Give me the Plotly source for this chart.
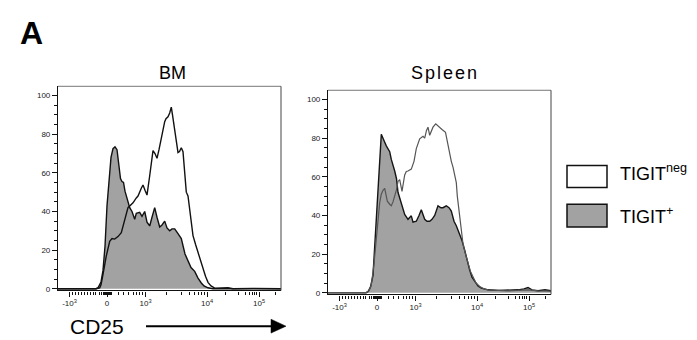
import plotly.graph_objects as go

# ---------------- data (x in display-channel units of the biexponential CD25 axis) -------------
bm_pos_x = [0, 38, 40, 43, 45, 47, 49, 51, 53, 55, 57, 59, 61, 62.5, 64, 65.5, 67, 69, 71.7, 74,
            76.7, 78.3, 81.7, 84, 86.7, 89, 91.7, 94, 96.7, 99, 101.7, 104, 106.7, 109, 111.7, 114,
            116.7, 120, 123.3, 127, 130, 133, 136.7, 140, 143.3, 146, 150, 155, 223]
bm_pos_y = [0, 0, 0.5, 3.5, 9.5, 22, 43, 58, 68, 72.5, 73.5, 72, 63.5, 57, 55.5, 55, 50.5, 47, 42, 40,
            36, 39, 39.5, 37.5, 40, 34.5, 32.5, 37, 42, 37, 32, 33, 35, 31.5, 30, 31,
            31, 28.5, 26, 18, 14, 11, 9, 5.5, 3, 1.5, 0.5, 0, 0]

bm_neg_x = [0, 38, 41.7, 43, 45, 48.3, 51.7, 54, 56.7, 60, 63.3, 66.7, 70, 72, 75, 78.3, 80, 83.3,
            85, 87, 89, 91.7, 93.5, 95, 97, 99, 101, 103.3, 105, 106.7, 108, 110, 111.7, 113.3,
            114.5, 116.7, 118.5, 120, 121.5, 123.3, 125, 126.5, 128.3, 130, 131.7, 133.3, 135,
            137.5, 140, 142.5, 145, 147.5, 150, 153, 156.7, 165, 170, 175, 188, 195, 223]
bm_neg_y = [0, 0, 0.5, 2, 7.5, 17, 24.5, 26, 25.7, 27, 29, 35, 42, 43, 44.5, 47, 48, 52,
            53.7, 51, 48.5, 58.5, 66, 71.5, 70, 67.5, 72, 77.5, 83, 86.5, 88, 89, 91, 94,
            90, 82.5, 75, 70.5, 71, 73, 71, 62, 50, 48, 41, 34, 27.5,
            23, 19, 14, 10, 6.5, 3.3, 1.5, 0.3, 0.2, 0.5, 0, 0.3, 0.2, 0]

sp_pos_x = [0, 38, 40, 42.5, 45, 47.3, 49, 50.5, 52, 53.3, 55, 58.3, 61.7, 63.3, 66.7, 68.5, 70,
            72.7, 73.3, 76.7, 80, 83.3, 85, 88.3, 91, 93.3, 96.7, 99, 101.7, 104, 106.7, 110, 113,
            115, 118.3, 121, 123.3, 126, 128.3, 131.7, 134, 136.7, 139, 141.7, 144, 146.7, 150,
            153.3, 160, 170, 180, 190, 196, 200, 204, 210, 217, 223]
sp_pos_y = [0, 0, 0.5, 3, 9, 29, 45, 60, 75, 82, 80, 76, 73, 69, 63, 59, 52,
            47.5, 46.5, 40.5, 38, 39.8, 36.5, 37, 40, 43, 38, 37, 37, 38, 40, 45, 44,
            44, 45, 44, 42.3, 37, 34.7, 30.5, 27, 22, 17, 11.7, 8, 5.8, 3.5,
            2.4, 1.5, 1.2, 1.3, 1.5, 2, 2.7, 1.5, 1, 1.5, 1]

sp_neg_x = [0, 38, 41, 43.3, 46, 48.3, 50, 51.7, 53.3, 55, 56.7, 58, 59.3, 61.7, 63.3, 65, 66.7,
            68.3, 70, 71.7, 74, 76.7, 78.3, 80, 83.3, 86, 88.3, 91.7, 95, 96.7, 98.5, 100, 101.7,
            103.5, 105, 107.7, 110, 111.7, 114, 117.5, 120, 121.7, 123.3, 125, 126.7, 128.3,
            129.3, 130, 131.7, 133.3, 135, 137.5, 140, 142.5, 145, 148, 151.7, 156, 160, 170,
            180, 190, 200, 210, 223]
sp_neg_y = [0, 0, 1, 4, 15, 29.6, 39, 46.6, 51, 53, 54, 50, 47.4, 45.8, 45, 47, 50,
            53, 57.6, 58.5, 52.5, 61, 62.8, 63, 64, 68, 74.6, 79.7, 81, 80, 84, 85.7, 81.5,
            84, 85.7, 87.4, 86.5, 85.7, 84.5, 83, 76, 73, 68, 65, 61, 57,
            50, 47, 37, 30.5, 25.3, 20, 15, 11, 8.3, 5, 3.2, 2, 1.5, 1.3,
            1, 1.2, 1.5, 1, 0.8]

tick_pos = [11.5, 49, 87.5, 149, 201]
tick_text = ["-10<sup>3</sup>", "0", "10<sup>3</sup>", "10<sup>4</sup>", "10<sup>5</sup>"]
minor_pos = [14.5, 17.5, 20.5, 23.5, 26.5, 29.5, 32.5, 35, 37.5, 41, 43.5, 45, 46, 47, 48,
             50, 51, 52, 53, 60, 65, 70, 75, 78, 81.5, 84.5,
             108, 123, 131.5, 136.5, 140, 143, 146, 167, 180, 187, 191.5, 194.5, 196.5, 198.5, 217]
y_ticks = [0, 20, 40, 60, 80, 100]
panel_titles = ["BM", "Spleen"]
legend_labels = ["TIGIT<sup>neg</sup>", "TIGIT<sup>+</sup>"]

# ---------------- layout helpers ----------------
W, H = 697, 340
def fx(x): return x / W
def fy(y): return 1 - y / H

GRAY = "#a2a2a2"
FONT = "Liberation Sans, Arial, sans-serif"

fig = go.Figure()
# BM
fig.add_trace(go.Scatter(x=bm_pos_x, y=bm_pos_y, mode="lines", fill="tozeroy", fillcolor=GRAY,
                         line=dict(color="#111", width=1.4), xaxis="x", yaxis="y", showlegend=False))
fig.add_trace(go.Scatter(x=bm_neg_x, y=bm_neg_y, mode="lines",
                         line=dict(color="#111", width=1.4), xaxis="x", yaxis="y", showlegend=False))
# Spleen
fig.add_trace(go.Scatter(x=sp_pos_x, y=sp_pos_y, mode="lines", fill="tozeroy", fillcolor=GRAY,
                         line=dict(color="#151515", width=1.4), xaxis="x2", yaxis="y2", showlegend=False))
fig.add_trace(go.Scatter(x=sp_neg_x, y=sp_neg_y, mode="lines",
                         line=dict(color="#555", width=1.2), xaxis="x2", yaxis="y2", showlegend=False))

def xax(domain, anchor):
    return dict(domain=domain, anchor=anchor, range=[0, 223], showgrid=False, zeroline=False,
                showline=True, linecolor="#111", linewidth=1.2, ticks="outside", ticklen=5,
                tickwidth=1, tickcolor="#111", tickmode="array", tickvals=tick_pos, ticktext=tick_text,
                tickfont=dict(family=FONT, size=8, color="#222"),
                minor=dict(tickmode="array", tickvals=minor_pos, ticks="outside", ticklen=3,
                           tickwidth=1, tickcolor="#111"))

def yax(domain, anchor):
    return dict(domain=domain, anchor=anchor, range=[-0.9, 104.8], showgrid=False, zeroline=False,
                showline=True, linecolor="#111", linewidth=1.2, ticks="outside", ticklen=5,
                tickwidth=1, tickcolor="#111", tickmode="array", tickvals=y_ticks,
                tickfont=dict(family=FONT, size=8, color="#222"),
                minor=dict(dtick=5, ticks="outside", ticklen=3, tickwidth=1, tickcolor="#111"))

shapes = []
for xr, yr in (("x", "y"), ("x2", "y2")):
    shapes.append(dict(type="line", xref=xr + " domain", yref=yr + " domain", x0=0, x1=1, y0=1, y1=1,
                       line=dict(color="#777", width=1)))
    shapes.append(dict(type="line", xref=xr + " domain", yref=yr + " domain", x0=1, x1=1, y0=0, y1=1,
                       line=dict(color="#444", width=1)))

# legend boxes
shapes.append(dict(type="rect", xref="paper", yref="paper", x0=fx(559), x1=fx(599), y0=fy(181), y1=fy(159),
                   fillcolor="white", line=dict(color="#111", width=1.5)))
shapes.append(dict(type="rect", xref="paper", yref="paper", x0=fx(559), x1=fx(599), y0=fy(221), y1=fy(198),
                   fillcolor=GRAY, line=dict(color="#111", width=1.5)))
# CD25 arrow
AY = 321
shapes.append(dict(type="line", xref="paper", yref="paper", x0=fx(138), x1=fx(266), y0=fy(AY), y1=fy(AY),
                   line=dict(color="#000", width=2)))
shapes.append(dict(type="path", xref="paper", yref="paper",
                   path=f"M {fx(263)} {fy(AY - 7)} L {fx(278)} {fy(AY)} L {fx(263)} {fy(AY + 7)} Z",
                   fillcolor="#000", line=dict(color="#000", width=0.5)))

annotations = [
    dict(text="<b>A</b>", x=fx(10), y=fy(25), xref="paper", yref="paper", xanchor="left", yanchor="middle",
         showarrow=False, font=dict(family=FONT, size=32, color="#000")),
    dict(text=panel_titles[0], x=fx(164), y=fy(66), xref="paper", yref="paper", xanchor="center",
         yanchor="middle", showarrow=False, font=dict(family=FONT, size=18, color="#000")),
    dict(text='<span style="letter-spacing:2px">' + panel_titles[1] + '</span>', x=fx(437), y=fy(66),
         xref="paper", yref="paper", xanchor="center",
         yanchor="middle", showarrow=False, font=dict(family=FONT, size=18, color="#000")),
    dict(text="CD25", x=fx(61), y=fy(AY), xref="paper", yref="paper", xanchor="left", yanchor="middle",
         showarrow=False, borderpad=0, font=dict(family=FONT, size=21, color="#000")),
    dict(text=legend_labels[0], x=fx(610), y=fy(166), xref="paper", yref="paper", xanchor="left",
         yanchor="middle", showarrow=False, font=dict(family=FONT, size=18, color="#000")),
    dict(text=legend_labels[1], x=fx(610), y=fy(209), xref="paper", yref="paper", xanchor="left",
         yanchor="middle", showarrow=False, font=dict(family=FONT, size=18, color="#000")),
]

fig.update_layout(
    width=W, height=H, margin=dict(l=0, r=0, t=0, b=0),
    paper_bgcolor="white", plot_bgcolor="white",
    xaxis=xax([fx(50), fx(273)], "y"),
    yaxis=yax([fy(285), fy(79)], "x"),
    xaxis2=xax([fx(320), fx(543)], "y2"),
    yaxis2=yax([fy(289), fy(83)], "x2"),
    shapes=shapes, annotations=annotations, showlegend=False,
)

fig.write_html("out.html")
